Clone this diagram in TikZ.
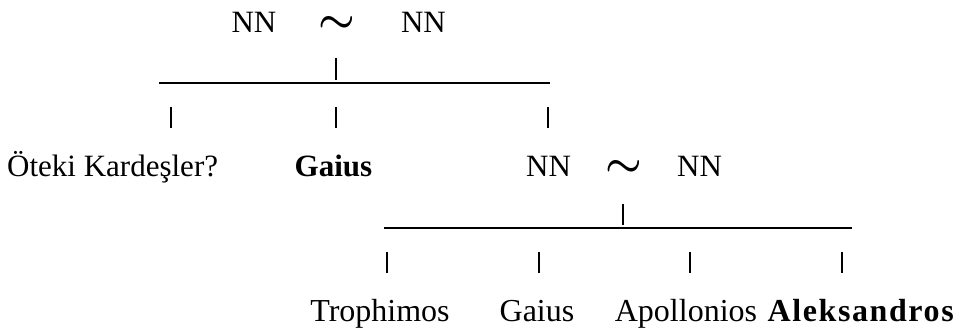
\documentclass[tikz,border=0pt]{standalone}
\usepackage{fontspec}
\setmainfont{Liberation Serif}
\begin{document}
\begin{tikzpicture}[x=1pt,y=-1pt,
  lbl/.style={inner sep=0pt,anchor=base,font=\fontsize{31}{36}\selectfont},
  lblb/.style={lbl,font=\fontsize{32}{36}\selectfont},
  wave/.style={lbl},
  bar/.style={line width=2pt},
  tickln/.style={line width=2.2pt}]
\useasboundingbox (0,0) rectangle (961,336);
% ---- level 1 parents
\node[lbl] (nnA) at (254,33) {NN};
\node[wave] (simA) at (337,33) {\smash{\scalebox{1.65}{\boldmath$\sim$}}};
\node[lbl] (nnB) at (423.5,33) {NN};
\coordinate (pA1) at (336,58);
\coordinate (pA2) at (336,80);
\draw[tickln] (pA1) -- (pA2);
% ---- level 1 bar
\coordinate (bA1) at (159,83);
\coordinate (bA2) at (550,83);
\draw[bar] (bA1) -- (bA2);
% ---- level 1 children ticks
\coordinate (cA1t) at (171,107); \coordinate (cA1b) at (171,128);
\coordinate (cA2t) at (336,107); \coordinate (cA2b) at (336,128);
\coordinate (cA3t) at (548,107); \coordinate (cA3b) at (548,128);
\draw[tickln] (cA1t) -- (cA1b);
\draw[tickln] (cA2t) -- (cA2b);
\draw[tickln] (cA3t) -- (cA3b);
% ---- level 1 children labels
\node[lbl,anchor=base west] (oteki) at (7,177) {Öteki Kardeşler?};
\node[lbl] (gaiusA) at (333.5,177) {\bfseries Gaius};
\node[lbl] (nnC) at (548.5,177) {NN};
\node[wave] (simB) at (624,177) {\smash{\scalebox{1.65}{\boldmath$\sim$}}};
\node[lbl] (nnD) at (699.5,177) {NN};
\coordinate (pB1) at (623,204);
\coordinate (pB2) at (623,225);
\draw[tickln] (pB1) -- (pB2);
% ---- level 2 bar
\coordinate (bB1) at (384,228);
\coordinate (bB2) at (852,228);
\draw[bar] (bB1) -- (bB2);
% ---- level 2 children ticks
\coordinate (cB1t) at (387,252); \coordinate (cB1b) at (387,273);
\coordinate (cB2t) at (539,252); \coordinate (cB2b) at (539,273);
\coordinate (cB3t) at (690,252); \coordinate (cB3b) at (690,273);
\coordinate (cB4t) at (842,252); \coordinate (cB4b) at (842,273);
\draw[tickln] (cB1t) -- (cB1b);
\draw[tickln] (cB2t) -- (cB2b);
\draw[tickln] (cB3t) -- (cB3b);
\draw[tickln] (cB4t) -- (cB4b);
% ---- level 2 children labels
\node[lblb] (troph) at (380,322) {Trophimos};
\node[lblb] (gaiusB) at (537,322) {Gaius};
\node[lblb] (apoll) at (686,322) {Apollonios};
\node[lblb,anchor=base east] (aleks) at (954,322) {\addfontfeature{LetterSpace=5}\bfseries Aleksandros};
\end{tikzpicture}
\end{document}
